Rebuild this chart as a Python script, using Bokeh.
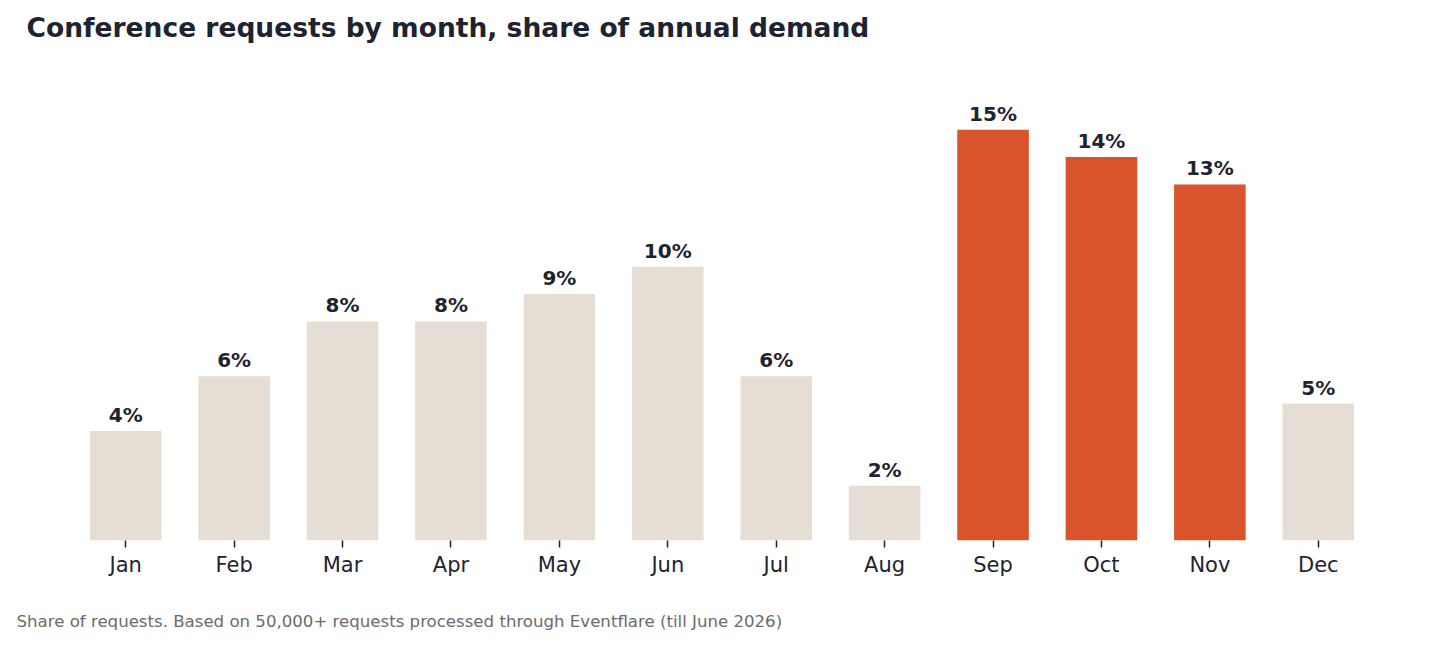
from bokeh.plotting import figure
from bokeh.models import ColumnDataSource, FactorRange, Range1d, Title
from bokeh.embed import file_html
from bokeh.resources import INLINE
from bokeh.core.properties import value

months = ["Jan", "Feb", "Mar", "Apr", "May", "Jun", "Jul", "Aug", "Sep", "Oct", "Nov", "Dec"]
shares = [4, 6, 8, 8, 9, 10, 6, 2, 15, 14, 13, 5]
highlight = ["Sep", "Oct", "Nov"]
title_text = "Conference requests by month, share of annual demand"
footnote_text = "Share of requests. Based on 50,000+ requests processed through Eventflare (till June 2026)"

colors = ["#d9532c" if m in highlight else "#e6ddd4" for m in months]
labels = [f"{v}%" for v in shares]
src = ColumnDataSource(dict(month=months, share=shares, color=colors, label=labels))

p = figure(width=1433, height=645, x_range=FactorRange(factors=months, range_padding=0),
           y_range=Range1d(0, 17.82), output_backend="svg", toolbar_location=None,
           y_axis_location=None, min_border_left=71, min_border_right=61,
           min_border_top=0, min_border_bottom=0, title=None)

p.vbar(x="month", top="share", width=0.66, color="color", line_color=None, source=src)
p.text(x="month", y="share", text="label", source=src, text_align="center",
       text_baseline="bottom", y_offset=-4, text_font=value("DejaVu Sans"),
       text_font_size="20px", text_font_style="bold", text_color="#1f2330")

p.xgrid.grid_line_color = None
p.ygrid.grid_line_color = None
p.outline_line_color = None
p.background_fill_color = "white"
p.border_fill_color = "white"

ax = p.xaxis[0]
ax.axis_line_color = None
ax.major_tick_line_color = "#1f2330"
ax.major_tick_line_width = 1.5
ax.major_tick_out = 7
ax.major_tick_in = 0
ax.major_label_standoff = 5
ax.major_label_text_font = "DejaVu Sans"
ax.major_label_text_font_size = "21px"
ax.major_label_text_color = "#1f2330"

title = Title(text=title_text, text_font="DejaVu Sans", text_font_size="26.5px",
              text_font_style="bold", text_color="#1f2330", align="left",
              offset=-45, standoff=19)
p.add_layout(title, "above")

spacer = Title(text=" ", text_font_size="1px", standoff=13)
p.add_layout(spacer, "below")

foot = Title(text=footnote_text, text_font="DejaVu Sans", text_font_size="16.6px",
             text_font_style="normal", text_color="#6b6b6b", align="left",
             offset=-55, standoff=29)
p.add_layout(foot, "below")

open("out.html", "w").write(file_html(p, INLINE))
